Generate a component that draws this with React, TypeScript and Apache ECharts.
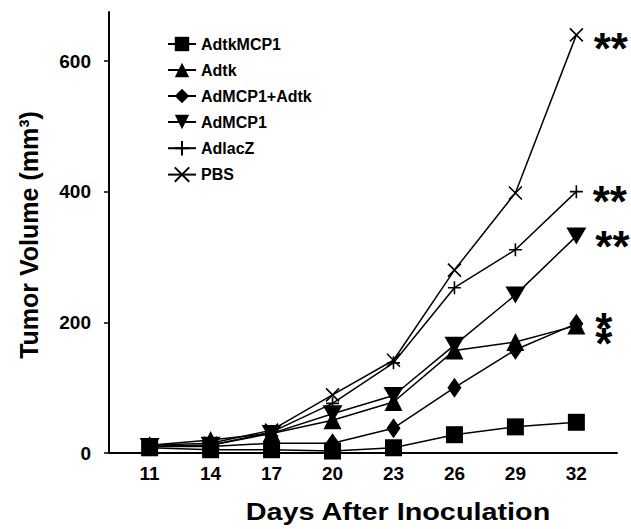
import React, { useEffect, useRef } from "react";
import * as echarts from "echarts";

const days = [11, 14, 17, 20, 23, 26, 29, 32];
const yTicks = [0, 200, 400, 600];
const seriesNames = ["AdtkMCP1", "Adtk", "AdMCP1+Adtk", "AdMCP1", "AdlacZ", "PBS"];
const adtkMCP1 = [8, 5, 5, 3, 8, 28, 40, 47];
const adtk = [12, 20, 30, 50, 78, 157, 170, 195];
const adMCP1Adtk = [10, 10, 15, 15, 38, 100, 158, 198];
const adMCP1 = [10, 12, 30, 60, 88, 165, 242, 332];
const adlacZ = [10, 12, 32, 76, 138, 253, 311, 400];
const pbs = [12, 15, 35, 89, 142, 280, 398, 640];
const endMarks = ["", "*\n*", "", "**", "**", "**"];

const BOLD = "'Liberation Sans', Arial, sans-serif";

const PLUS = "path://M5,0 L5,10 M0,5 L10,5";
const CROSS = "path://M0,0 L10,10 M10,0 L0,10";

export default function App() {
  const ref = useRef<HTMLDivElement>(null);
  useEffect(() => {
    if (!ref.current) return;
    const chart = echarts.init(ref.current, null, { renderer: "svg" });
    const values = [adtkMCP1, adtk, adMCP1Adtk, adMCP1, adlacZ, pbs];
    const symbols: any[] = ["rect", "triangle", "diamond", "triangle", PLUS, CROSS];
    const sizes: any[] = [17, 18, [14, 20], [20, 17], 13, 13];
    const rotates = [0, 0, 0, 180, 0, 0];
    const markOffsets: any[] = [[0, 0], [4, 10], [0, 0], [3, 10], [3, 10], [4, 14]];
    const series = values.map((vals, si) => ({
      name: seriesNames[si],
      type: "line",
      symbol: symbols[si],
      symbolSize: sizes[si],
      symbolRotate: rotates[si],
      showAllSymbol: true,
      lineStyle: { color: "#000", width: 1.5 },
      itemStyle:
        si >= 4
          ? { color: "rgba(0,0,0,0)", borderColor: "#000", borderWidth: 1.6 }
          : { color: "#000", borderColor: "#000", borderWidth: 0 },
      data: vals.map((v, i) => {
        const item: any = { value: [days[i], v] };
        if (i === vals.length - 1 && endMarks[si]) {
          item.label = {
            show: true,
            position: "right",
            distance: 6,
            offset: markOffsets[si],
            formatter: endMarks[si],
            color: "#000",
            fontSize: 44,
            lineHeight: 15,
            fontWeight: "bold",
            fontFamily: BOLD,
          };
        }
        return item;
      }),
      z: 2 + si,
    }));
    chart.setOption({
      animation: false,
      backgroundColor: "#fff",
      grid: { left: 109, right: 14, top: 12, bottom: 76 },
      xAxis: {
        type: "value",
        min: 9,
        max: 34,
        axisLine: { show: true, lineStyle: { color: "#000", width: 2 } },
        axisTick: { show: false },
        splitLine: { show: false },
        axisLabel: {
          customValues: days,
          color: "#000",
          fontSize: 19,
          fontWeight: "bold",
          fontFamily: BOLD,
          margin: 11,
        },
      },
      yAxis: {
        type: "value",
        min: 0,
        max: 675,
        axisLine: { show: true, lineStyle: { color: "#000", width: 2 } },
        axisTick: { show: true, customValues: yTicks, length: 5, lineStyle: { color: "#000", width: 1.5 } },
        splitLine: { show: false },
        axisLabel: {
          customValues: yTicks,
          color: "#000",
          fontSize: 19,
          fontWeight: "bold",
          fontFamily: BOLD,
          margin: 18,
        },
      },
      legend: {
        orient: "vertical",
        left: 167,
        top: 36,
        padding: 0,
        itemWidth: 28,
        itemHeight: 18,
        itemGap: 10,
        data: seriesNames,
        textStyle: { color: "#000", fontSize: 16, fontWeight: "bold", fontFamily: BOLD },
      },
      graphic: [
        {
          type: "text",
          x: 29,
          y: 235,
          rotation: Math.PI / 2,
          style: {
            text: "Tumor Volume (mm³)",
            fontSize: 25,
            fontWeight: "bold",
            fontFamily: BOLD,
            fill: "#000",
            textAlign: "center",
            textVerticalAlign: "middle",
          },
        },
        {
          type: "text",
          x: 398,
          y: 512,
          scaleX: 1.2,
          style: {
            text: "Days After Inoculation",
            fontSize: 24,
            fontWeight: "bold",
            fontFamily: BOLD,
            fill: "#000",
            textAlign: "center",
            textVerticalAlign: "middle",
          },
        },
      ],
      series,
    });
    return () => chart.dispose();
  }, []);
  return (
    <div
      ref={ref}
      style={{ position: "fixed", left: 0, top: 0, width: 631, height: 529, background: "#fff" }}
    />
  );
}
